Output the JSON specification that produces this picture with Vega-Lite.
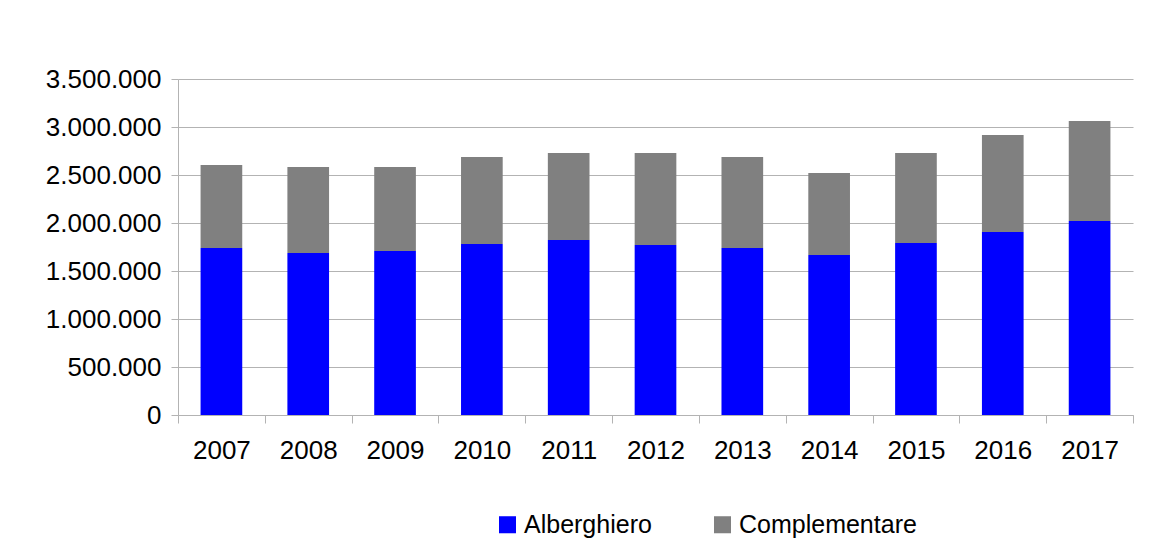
{
  "$schema": "https://vega.github.io/schema/vega-lite/v6.json",
  "width": 955,
  "height": 336,
  "autosize": {"type": "none"},
  "padding": {"left": 178, "top": 79, "right": 16, "bottom": 135},
  "background": "white",
  "config": {
    "locale": {"number": {"decimal": ",", "thousands": ".", "grouping": [3], "currency": ["€", ""]}},
    "view": {"stroke": null},
    "font": "Liberation Sans"
  },
  "data": {
    "values": [
      {"anno": "2007", "serie": "Alberghiero", "valore": 1740000},
      {"anno": "2007", "serie": "Complementare", "valore": 864000},
      {"anno": "2008", "serie": "Alberghiero", "valore": 1688000},
      {"anno": "2008", "serie": "Complementare", "valore": 895000},
      {"anno": "2009", "serie": "Alberghiero", "valore": 1708000},
      {"anno": "2009", "serie": "Complementare", "valore": 875000},
      {"anno": "2010", "serie": "Alberghiero", "valore": 1781000},
      {"anno": "2010", "serie": "Complementare", "valore": 906000},
      {"anno": "2011", "serie": "Alberghiero", "valore": 1823000},
      {"anno": "2011", "serie": "Complementare", "valore": 906000},
      {"anno": "2012", "serie": "Alberghiero", "valore": 1771000},
      {"anno": "2012", "serie": "Complementare", "valore": 958000},
      {"anno": "2013", "serie": "Alberghiero", "valore": 1740000},
      {"anno": "2013", "serie": "Complementare", "valore": 947000},
      {"anno": "2014", "serie": "Alberghiero", "valore": 1667000},
      {"anno": "2014", "serie": "Complementare", "valore": 854000},
      {"anno": "2015", "serie": "Alberghiero", "valore": 1792000},
      {"anno": "2015", "serie": "Complementare", "valore": 937000},
      {"anno": "2016", "serie": "Alberghiero", "valore": 1906000},
      {"anno": "2016", "serie": "Complementare", "valore": 1011000},
      {"anno": "2017", "serie": "Alberghiero", "valore": 2021000},
      {"anno": "2017", "serie": "Complementare", "valore": 1041000}
    ]
  },
  "mark": {"type": "bar", "width": {"band": 0.48}},
  "encoding": {
    "x": {
      "field": "anno",
      "type": "ordinal",
      "scale": {"paddingInner": 0, "paddingOuter": 0},
      "axis": {
        "title": null,
        "labelAngle": 0,
        "labelFontSize": 26,
        "labelColor": "#000000",
        "labelPadding": 14,
        "tickBand": "extent",
        "tickSize": 8,
        "tickColor": "#b3b3b3",
        "domainColor": "#b3b3b3",
        "grid": false
      }
    },
    "y": {
      "field": "valore",
      "type": "quantitative",
      "stack": "zero",
      "scale": {"domain": [0, 3500000], "nice": false},
      "axis": {
        "title": null,
        "values": [0, 500000, 1000000, 1500000, 2000000, 2500000, 3000000, 3500000],
        "format": ",d",
        "labelFontSize": 26,
        "labelColor": "#000000",
        "labelPadding": 10,
        "tickSize": 7,
        "tickColor": "#b3b3b3",
        "domainColor": "#b3b3b3",
        "gridColor": "#b3b3b3",
        "gridWidth": 1
      }
    },
    "color": {
      "field": "serie",
      "type": "nominal",
      "scale": {"domain": ["Alberghiero", "Complementare"], "range": ["#0000ff", "#808080"]},
      "legend": {
        "title": null,
        "orient": "none",
        "direction": "horizontal",
        "legendX": 317,
        "legendY": 433,
        "symbolType": "square",
        "symbolSize": 290,
        "symbolStrokeWidth": 0,
        "labelFontSize": 25,
        "labelColor": "#000000",
        "labelLimit": 400,
        "labelOffset": 4,
        "columnPadding": 58
      }
    },
    "order": {"field": "serie", "sort": "ascending"}
  }
}
